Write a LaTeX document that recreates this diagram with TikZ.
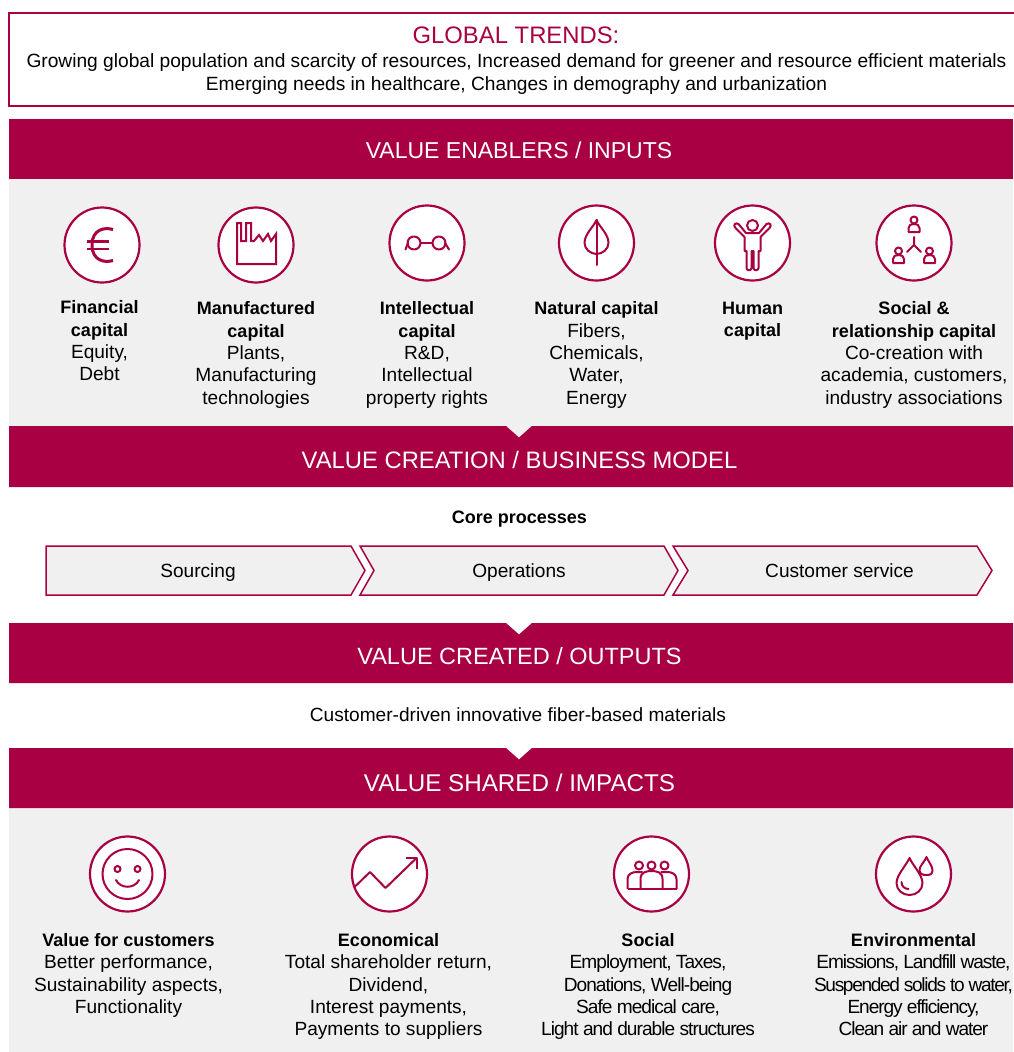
\documentclass[tikz,border=0pt]{standalone}
\usepackage{fontspec}
\setmainfont{Liberation Sans}
\newfontfamily\plainf{Liberation Sans}
\definecolor{brand}{HTML}{A80042}
\definecolor{panel}{HTML}{F0F0F0}
\newcommand{\hb}[1]{{\plainf\fontsize{18}{22.4}\selectfont\textbf{#1}}\\}
\tikzset{
  x=1pt,y=-1pt,
  bar/.style={fill=brand,draw=none},
  bartext/.style={text=white,inner sep=0pt},
  body/.style={align=center,anchor=north,inner sep=0pt,text=black,font=\fontsize{19.1}{22.4}\selectfont},
  tight/.style={align=center,anchor=north,inner sep=0pt,text=black,font=\fontsize{19.1}{22.4}\selectfont\addfontfeatures{LetterSpace=#1}},
  oneline/.style={inner sep=0pt,anchor=base,text=black,font=\fontsize{19.1}{22}\selectfont},
  ring/.style={circle,draw=brand,line width=2.2pt,fill=white,minimum size=75pt,inner sep=0pt},
  ico/.style={draw=brand,line width=2pt,line join=round,line cap=round},
  chev/.style={draw=brand,line width=1.5pt,fill=panel,line join=miter},
}
\begin{document}
\begin{tikzpicture}
\useasboundingbox (0,0) rectangle (1013,1052);
% top box
\node[draw=brand,line width=2.2pt,fill=white,minimum width=1030pt,minimum height=93pt,anchor=north west,inner sep=0pt] (trendbox) at (8,12) {};
\node[inner sep=0pt,text=brand,font=\fontsize{23.85}{30}\selectfont] (trendtitle) at (516,35) {GLOBAL TRENDS:};
\node[oneline,font=\fontsize{19.17}{22}\selectfont] (trendone) at (516.5,67) {Growing global population and scarcity of resources, Increased demand for greener and resource efficient materials};
\node[oneline,font=\fontsize{19.17}{22}\selectfont] (trendtwo) at (516.5,90) {Emerging needs in healthcare, Changes in demography and urbanization};
% panels
\fill[panel] (9,179) rectangle (1013,438);
\fill[panel] (9,808) rectangle (1013,1052);
% bars
\fill[bar] (9,119) rectangle (1013,179);
\fill[bar] (9,426) -- (506,426) -- (519,437.5) -- (532,426) -- (1013,426) -- (1013,487) -- (9,487) -- cycle;
\fill[bar] (9,623) -- (506,623) -- (519,634.5) -- (532,623) -- (1013,623) -- (1013,683) -- (9,683) -- cycle;
\fill[bar] (9,748) -- (506,748) -- (519,759.5) -- (532,748) -- (1013,748) -- (1013,808) -- (9,808) -- cycle;
\node[bartext,font=\fontsize{23}{30}\selectfont] (enablers) at (519,150.5) {VALUE ENABLERS / INPUTS};
\node[bartext,font=\fontsize{23.8}{30}\selectfont] (creation) at (519.5,459.5) {VALUE CREATION / BUSINESS MODEL};
\node[bartext,font=\fontsize{23.5}{30}\selectfont] (created) at (519.5,656.5) {VALUE CREATED / OUTPUTS};
\node[bartext,font=\fontsize{24.2}{30}\selectfont] (shared) at (519.5,782.5) {VALUE SHARED / IMPACTS};
% rings row 1
\node[ring] (r1) at (102,245) {};
\node[ring] (r2) at (256,245) {};
\node[ring] (r3) at (427,243) {};
\node[ring] (r4) at (596.5,243) {};
\node[ring] (r5) at (752.5,243) {};
\node[ring] (r6) at (914,243) {};
% euro
\begin{scope}[shift={(r1.center)}]
\draw[ico,line width=3pt,line cap=butt] (11,-15.5) .. controls (3,-18) and (-10,-16) .. (-10,0) .. controls (-10,16) and (3,18) .. (11,15.5);
\draw[ico,line width=2.5pt,line cap=butt] (-15,-3.5) -- (7,-3.5) (-15,4) -- (7,4);
\end{scope}
% factory
\begin{scope}[shift={(r2.center)}]
\draw[ico,line cap=butt,line join=miter] (-19,-22) -- (-19,19) -- (20,19) -- (20,-11) -- (15,-4) -- (12,-11) -- (7,-4) -- (3,-10) -- (-2,-4) -- (-5,-4) -- (-5,-22) -- (-10,-22) -- (-10,-4) -- (-15,-4) -- (-15,-22) -- cycle;
\end{scope}
% glasses
\begin{scope}[shift={(r3.center)}]
\draw[ico] (-13,0) circle (6.5) (12,0) circle (6.5);
\draw[ico] (-6.5,0) -- (5.5,0);
\draw[ico] (-19,0) .. controls (-20,3) .. (-21.5,6.5);
\draw[ico] (18,0) .. controls (20,3) .. (22,6.5);
\end{scope}
% leaf
\begin{scope}[shift={(r4.center)}]
\draw[ico] (0,-23) .. controls (-3,-16) and (-12,-9) .. (-12,0) .. controls (-12,6) and (-6,11) .. (0,11) .. controls (6,11) and (12,6) .. (12,0) .. controls (12,-9) and (3,-16) .. (0,-23) -- cycle;
\draw[ico] (0,-23) -- (0,22);
\end{scope}
% human
\begin{scope}[shift={(r5.center)}]
\draw[ico] (0,-17.5) circle (5.5);
\draw[ico] (-8,-6) -- (-17,-15) .. controls (-20,-18) and (-17,-21) .. (-14,-19) -- (-6.5,-10) -- (6.5,-10) -- (14,-19) .. controls (17,-21) and (20,-18) .. (17,-15) -- (8,-6) -- (8,8) -- (6,8) -- (6,25) .. controls (6,28) and (1,28) .. (1,25) -- (1,8) -- (-1,8) -- (-1,25) .. controls (-1,28) and (-6,28) .. (-6,25) -- (-6,8) -- (-8,8) -- cycle;
\end{scope}
% social network
\begin{scope}[shift={(r6.center)}]
\foreach \dx/\dy in {0/-18, -15.5/13, 15.5/13}{
  \draw[ico] (\dx,\dy-5) circle (3.5);
  \draw[ico] (\dx-5.5,\dy+7) -- (\dx-5.5,\dy+3) .. controls (\dx-5.5,\dy) and (\dx-3,\dy-1) .. (\dx,\dy-1) .. controls (\dx+3,\dy-1) and (\dx+5.5,\dy) .. (\dx+5.5,\dy+3) -- (\dx+5.5,\dy+7) -- cycle;
}
\draw[ico] (0,-6) -- (0,2) (-7,9) -- (0,2) -- (7,9);
\end{scope}
% labels row 1
\node[body] (t1) at (99.5,300.5) {\hb{Financial}\hb{capital}Equity,\\Debt};
\node[body] (t2) at (256,301.5) {\hb{Manufactured}\hb{capital}Plants,\\Manufacturing\\technologies};
\node[body] (t3) at (427,301.5) {\hb{Intellectual}\hb{capital}R\&D,\\Intellectual\\property rights};
\node[body] (t4) at (596.5,301.5) {\hb{Natural capital}Fibers,\\Chemicals,\\Water,\\Energy};
\node[body] (t5) at (752.5,301.5) {\hb{Human}{\fontsize{18}{22.4}\selectfont\textbf{capital}}};
\node[body] (t6) at (914,301.5) {\hb{Social \&}\hb{relationship capital}Co-creation with\\academia, customers,\\industry associations};
% process
\node[oneline,font=\fontsize{18}{22}\selectfont] (core) at (519.5,523) {\textbf{Core processes}};
\draw[chev] (46,546) -- (351,546) -- (365,570.5) -- (351,595) -- (46,595) -- cycle;
\draw[chev] (360,546) -- (664,546) -- (678,570.5) -- (664,595) -- (360,595) -- (374,570.5) -- cycle;
\draw[chev] (673,546) -- (977,546) -- (992,570.5) -- (977,595) -- (673,595) -- (688,570.5) -- cycle;
\node[oneline] (sourcing) at (198,577) {Sourcing};
\node[oneline] (operations) at (519,577) {Operations};
\node[oneline] (service) at (839.5,577) {Customer service};
\node[oneline] (customer) at (518,721) {Customer-driven innovative fiber-based materials};
% rings row 2
\node[ring] (s1) at (127.5,874) {};
\node[ring] (s2) at (389.5,874) {};
\node[ring] (s3) at (651.5,874) {};
\node[ring] (s4) at (913.5,874) {};
% smiley
\begin{scope}[shift={(s1.center)}]
\draw[ico] (0,0) circle (25);
\draw[ico] (-10,-5) circle (3) (10,-5) circle (3);
\draw[ico] (-11.5,6) .. controls (-7,15) and (7,15) .. (11.5,6);
\end{scope}
% chart
\begin{scope}[shift={(s2.center)}]
\coordinate (chartstart) at (-35,13);
\draw[ico,line cap=butt] (chartstart) -- (-19.5,-2) -- (-4,14) -- (27,-16);
\draw[ico,line cap=butt] (16,-16) -- (27,-16) -- (27,-5);
\end{scope}
% people
\begin{scope}[shift={(s3.center)}]
\draw[ico] (-12.5,-8.5) circle (4) (0,-8.5) circle (4) (13,-8.5) circle (4);
\draw[ico,line cap=butt] (-24,15) -- (25,15);
\draw[ico,line cap=butt] (-11,15) -- (-11,5) .. controls (-11,-2) and (-5,-3) .. (0,-3) .. controls (5,-3) and (11,-2) .. (11,5) -- (11,15);
\draw[ico,line cap=butt] (-24,15) -- (-24,5) .. controls (-24,0) and (-19,-2) .. (-15,-2) -- (-9,-2);
\draw[ico,line cap=butt] (25,15) -- (25,5) .. controls (25,0) and (20,-2) .. (16,-2) -- (9,-2);
\end{scope}
% drops
\begin{scope}[shift={(s4.center)}]
\draw[ico] (-4,-16) .. controls (-7,-9) and (-17,1) .. (-17,9) .. controls (-17,16) and (-11,21) .. (-4,21) .. controls (3,21) and (9,16) .. (9,9) .. controls (9,1) and (-1,-9) .. (-4,-16) -- cycle;
\draw[ico] (-12,8) .. controls (-12,12) and (-9,15) .. (-5,15);
\draw[ico] (13,-17) .. controls (11,-12) and (6,-8) .. (6,-4) .. controls (6,0) and (9,1) .. (13,1) .. controls (17,1) and (19,0) .. (19,-4) .. controls (19,-8) and (15,-12) .. (13,-17) -- cycle;
\end{scope}
% labels row 2
\node[body] (u1) at (128.5,933) {\hb{Value for customers}Better performance,\\Sustainability aspects,\\Functionality};
\node[body] (u2) at (388.5,933) {\hb{Economical}Total shareholder return,\\Dividend,\\Interest payments,\\Payments to suppliers};
\node[tight=-5] (u3) at (648,933) {\hb{Social}Employment, Taxes,\\Donations, Well-being\\Safe medical care,\\Light and durable structures};
\node[tight=-5.6] (u4) at (913.5,933) {\hb{Environmental}Emissions, Landfill waste,\\{\addfontfeatures{LetterSpace=-7}Suspended solids to water,}\\Energy efficiency,\\Clean air and water};
\end{tikzpicture}
\end{document}
